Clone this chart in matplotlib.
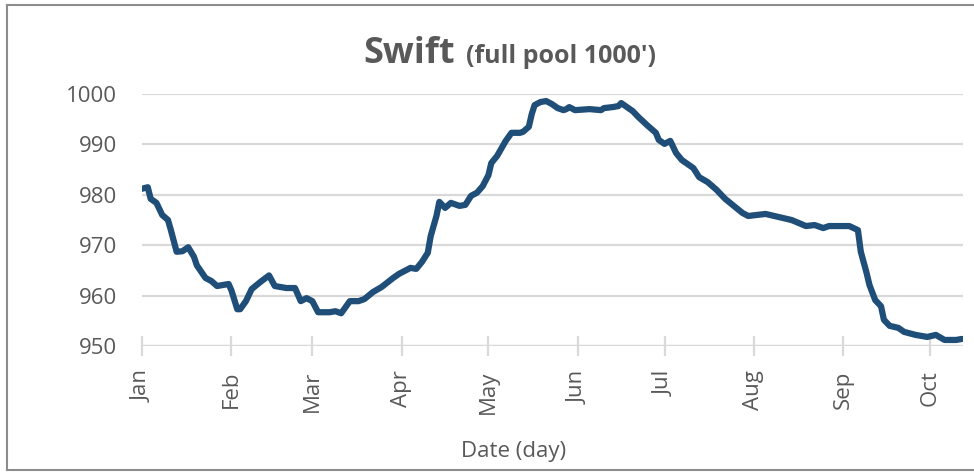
import numpy as np
import matplotlib
matplotlib.use("Agg")
import matplotlib.pyplot as plt
import matplotlib.dates as mdates
from matplotlib.lines import Line2D

# ---- data ----
year_start = np.datetime64("2023-01-01")
day_offset = [0, 2, 3, 5, 7, 9, 10, 12, 14, 16, 18, 19, 22, 24, 26, 28, 30, 31, 33, 34,
              36, 38, 41, 44, 46, 50, 53, 55, 57, 59, 61, 65, 67, 69, 72, 75, 77, 80, 83, 87,
              89, 93, 95, 97, 99, 100, 102, 103, 105, 107, 110, 112, 114, 116, 118, 120, 121, 123, 125, 126,
              128, 131, 132, 134, 135, 136, 138, 140, 142, 144, 146, 147, 148, 150, 155, 159, 160, 163, 165, 166,
              170, 172, 175, 178, 179, 181, 183, 185, 187, 191, 193, 196, 199, 202, 205, 208, 210, 213, 216, 219,
              225, 230, 233, 236, 238, 242, 245, 248, 249, 251, 252, 254, 256, 257, 259, 262, 264, 268, 272, 275,
              278, 282, 284]
level_ft = [981.2, 981.5, 979.2, 978.4, 976.0, 975.0, 973.0, 968.7, 968.8, 969.6, 967.7, 966.0, 963.5, 962.9, 961.9, 962.1, 962.3, 961.0, 957.3, 957.3,
            958.9, 961.3, 962.7, 964.0, 961.9, 961.5, 961.5, 958.9, 959.5, 958.9, 956.7, 956.7, 956.9, 956.5, 958.9, 958.9, 959.3, 960.7, 961.7, 963.5,
            964.3, 965.5, 965.3, 966.7, 968.5, 971.8, 975.8, 978.6, 977.4, 978.4, 977.8, 978.0, 979.8, 980.4, 981.7, 983.9, 986.3, 987.7, 989.7, 990.7,
            992.3, 992.3, 992.5, 993.5, 996.0, 997.8, 998.4, 998.6, 998.0, 997.2, 996.8, 997.0, 997.4, 996.8, 997.0, 996.8, 997.2, 997.4, 997.6, 998.2,
            996.6, 995.4, 993.8, 992.3, 990.9, 990.1, 990.7, 988.3, 986.9, 985.3, 983.5, 982.5, 981.0, 979.2, 977.8, 976.4, 975.8, 976.0, 976.2, 975.8,
            975.0, 973.8, 974.0, 973.4, 973.8, 973.8, 973.8, 973.0, 968.7, 964.5, 962.1, 959.1, 957.9, 955.2, 954.0, 953.6, 952.8, 952.2, 951.8, 952.2,
            951.2, 951.2, 951.4]
month_labels = ["Jan", "Feb", "Mar", "Apr", "May", "Jun", "Jul", "Aug", "Sep", "Oct"]
y_ticks = [950, 960, 970, 980, 990, 1000]
title_main = "Swift"
title_sub = "(full pool 1000')"
x_label = "Date (day)"

dates = year_start + np.array(day_offset).astype("timedelta64[D]")
month_starts = np.array([f"2023-{m:02d}-01" for m in range(1, len(month_labels) + 1)], dtype="datetime64[D]")

# ---- style ----
txt_col = "#595959"
grid_col = "#D9D9D9"
line_col = "#1F4E79"
font = "Open Sans"

fig = plt.figure(figsize=(9.74, 4.74), dpi=100)
ax = fig.add_axes([142 / 974, 1 - 346 / 474, (963 - 142) / 974, (346 - 94) / 474])

ax.plot(dates, level_ft, color=line_col, lw=4.5, solid_capstyle="round", solid_joinstyle="round", zorder=3)

ax.set_ylim(950, 1000)
ax.set_xlim(mdates.date2num(year_start), mdates.date2num(year_start) + 284.4)
ax.set_yticks(y_ticks)
ax.set_xticks(mdates.date2num(month_starts))
ax.set_xticklabels(month_labels, rotation=90, fontsize=16, color=txt_col, family=font)
for lab in ax.get_yticklabels():
    lab.set_fontsize(16)
    lab.set_color(txt_col)
    lab.set_family(font)

ax.grid(axis="y", color=grid_col, lw=1.6, zorder=0)
for s in ax.spines.values():
    s.set_visible(False)
ax.axhline(950, color=grid_col, lw=1.6, zorder=1)
ax.tick_params(axis="y", length=0, pad=18)
ax.tick_params(axis="x", direction="inout", length=15, width=1.6, color=grid_col, pad=10)

# title
fig.text(455 / 974, 1 - 63 / 474, title_main, ha="right", va="baseline",
         fontsize=26, fontweight="bold", color=txt_col, family=font)
fig.text(466 / 974, 1 - 63 / 474, title_sub, ha="left", va="baseline",
         fontsize=18, fontweight="bold", color=txt_col, family=font)
fig.text(514 / 974, 1 - 457 / 474, x_label, ha="center", va="baseline",
         fontsize=16, color=txt_col, family=font)

# chart border
bc = "#8C8C8C"
x0, y0, y1 = 7 / 974, 1 - 470 / 474, 1 - 5 / 474
fig.add_artist(Line2D([x0, x0], [y0, y1], color=bc, lw=1.5, transform=fig.transFigure))
fig.add_artist(Line2D([x0, 1.0], [y1, y1], color=bc, lw=1.5, transform=fig.transFigure))
fig.add_artist(Line2D([x0, 1.0], [y0, y0], color=bc, lw=1.5, transform=fig.transFigure))

fig.savefig("out.png", dpi=100)
